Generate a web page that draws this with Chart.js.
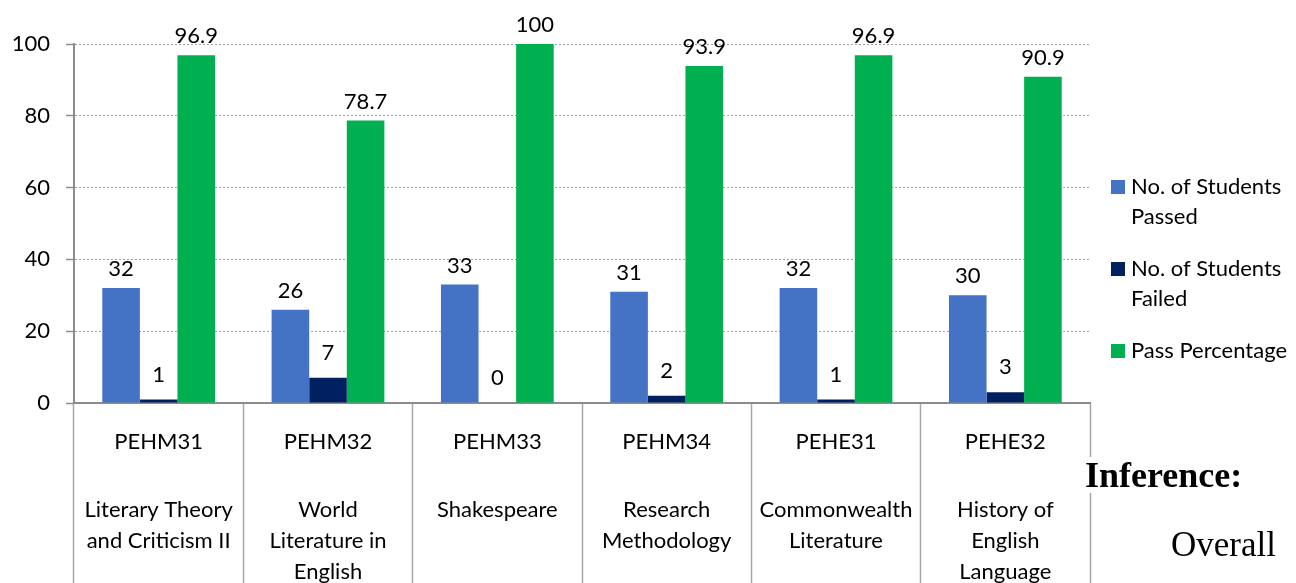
<!DOCTYPE html>
<html>
<head>
<meta charset="utf-8">
<script src="https://cdn.jsdelivr.net/npm/chart.js@4.4.0/dist/chart.umd.min.js"></script>
<style>
  html, body { margin: 0; padding: 0; background: #fff; overflow: hidden; }
  #wrap { position: relative; width: 1296px; height: 583px; }
  .doc { position: absolute; font-family: "Liberation Serif", serif; color: #000; line-height: 1; white-space: nowrap; background: #fff; }
</style>
</head>
<body>
<div id="wrap">
  <canvas id="resultChart"></canvas>
  <div class="doc" style="left:1085px; top:457px; font-size:36px; font-weight:bold;">Inference:</div>
  <div class="doc" style="left:1171px; top:527px; font-size:35px;">Overall</div>
</div>
<script>
const courseCodes = ['PEHM31', 'PEHM32', 'PEHM33', 'PEHM34', 'PEHE31', 'PEHE32'];
const courseNames = [
  ['Literary Theory', 'and Criticism II'],
  ['World', 'Literature in', 'English'],
  ['Shakespeare'],
  ['Research', 'Methodology'],
  ['Commonwealth', 'Literature'],
  ['History of', 'English', 'Language']
];
const studentsPassed = [32, 26, 33, 31, 32, 30];
const studentsFailed = [1, 7, 0, 2, 1, 3];
const passPercentage = [96.9, 78.7, 100, 93.9, 96.9, 90.9];
const seriesNames = ['No. of Students Passed', 'No. of Students Failed', 'Pass Percentage'];
const yMax = 100;
const yStep = 20;

const FONT = 'Lato, "Open Sans", sans-serif';
const labelLift = [19, 25, 19];

// value labels above each bar
const valueLabels = {
  id: 'valueLabels',
  afterDatasetsDraw(chart) {
    const ctx = chart.ctx;
    ctx.save();
    ctx.font = '22px ' + FONT;
    ctx.fillStyle = '#000';
    ctx.textAlign = 'center';
    ctx.textBaseline = 'middle';
    chart.data.datasets.forEach((ds, d) => {
      chart.getDatasetMeta(d).data.forEach((bar, i) => {
        ctx.fillText(String(ds.data[i]), bar.x, bar.y - labelLift[d]);
      });
    });
    ctx.restore();
  }
};

// two-level category labels under the axis
const courseLabels = {
  id: 'courseLabels',
  afterDraw(chart) {
    const ctx = chart.ctx;
    const x = chart.scales.x;
    ctx.save();
    ctx.font = '22px ' + FONT;
    ctx.fillStyle = '#000';
    ctx.textAlign = 'center';
    ctx.textBaseline = 'middle';
    courseCodes.forEach((code, i) => {
      const cx = x.getPixelForValue(i);
      ctx.fillText(code, cx, x.top + 39);
      courseNames[i].forEach((line, k) => ctx.fillText(line, cx, x.top + 107 + k * 31));
    });
    ctx.restore();
  }
};

// legend on the right with wrapped labels
const sideLegend = {
  id: 'sideLegend',
  afterDraw(chart) {
    const ctx = chart.ctx;
    const left = chart.chartArea.right + 21;
    let y = 187;
    ctx.save();
    ctx.font = '22px ' + FONT;
    ctx.textBaseline = 'middle';
    ctx.textAlign = 'left';
    chart.data.datasets.forEach(ds => {
      const words = ds.label.split(' ');
      const lines = [];
      let cur = '';
      words.forEach(w => {
        const test = cur ? cur + ' ' + w : w;
        if (ctx.measureText(test).width > 168 && cur) {
          lines.push(cur);
          cur = w;
        } else {
          cur = test;
        }
      });
      lines.push(cur);
      ctx.fillStyle = ds.backgroundColor;
      ctx.fillRect(left, y - 7, 14, 14);
      ctx.fillStyle = '#000';
      lines.forEach((line, k) => ctx.fillText(line, left + 20, y + k * 30));
      y += (lines.length - 1) * 30 + 52;
    });
    ctx.restore();
  }
};

new Chart(document.getElementById('resultChart'), {
  type: 'bar',
  data: {
    labels: courseCodes,
    datasets: [
      { label: seriesNames[0], data: studentsPassed, backgroundColor: '#4472C4' },
      { label: seriesNames[1], data: studentsFailed, backgroundColor: '#002060' },
      { label: seriesNames[2], data: passPercentage, backgroundColor: '#00B050' }
    ]
  },
  options: {
    responsive: true,
    maintainAspectRatio: false,
    animation: false,
    layout: { padding: { top: 44, right: 206, left: 0, bottom: 0 } },
    datasets: { bar: { categoryPercentage: 0.666, barPercentage: 1.0 } },
    plugins: { legend: { display: false }, tooltip: { enabled: false } },
    scales: {
      x: {
        ticks: { display: false },
        grid: {
          offset: true,
          drawOnChartArea: false,
          drawTicks: true,
          tickLength: 190,
          tickColor: '#a6a6a6',
          tickWidth: 1.5
        },
        border: { display: true, color: '#8c8c8c', width: 2 },
        afterFit(scale) { scale.height = 180; }
      },
      y: {
        min: 0,
        max: yMax,
        ticks: {
          stepSize: yStep,
          color: '#000',
          font: { family: FONT, size: 22 },
          padding: 16
        },
        grid: {
          color: '#a0a0a0',
          lineWidth: 1,
          tickLength: 8,
          tickColor: '#8c8c8c',
          tickWidth: 1.5
        },
        border: { display: true, color: '#8c8c8c', width: 2, dash: [2, 2] },
        afterFit(scale) { scale.width = 74; }
      }
    }
  },
  plugins: [valueLabels, courseLabels, sideLegend]
});
</script>
</body>
</html>
